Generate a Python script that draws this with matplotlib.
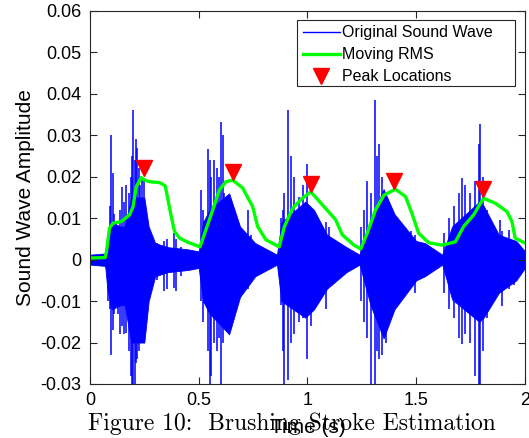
import numpy as np
import matplotlib
matplotlib.use('Agg')
import matplotlib.pyplot as plt
from matplotlib.patches import Rectangle

plt.rcParams['font.family'] = ['Liberation Sans', 'DejaVu Sans']

# dense part of the sound wave (envelope)
core_t = [0.00, 0.07, 0.08, 0.10, 0.14, 0.16, 0.19, 0.25, 0.27, 0.30, 0.36, 0.45, 0.50, 0.52, 0.55,
          0.64, 0.69, 0.76, 0.86, 0.88, 0.99, 1.03, 1.09, 1.18, 1.24, 1.29, 1.35, 1.40, 1.50, 1.54,
          1.62, 1.665, 1.79, 1.81, 1.88, 1.96, 2.00]
core_hi = [0.0012, 0.0015, 0.006, 0.009, 0.008, 0.008, 0.015, 0.015, 0.008, 0.004, 0.003, 0.0025, 0.002, 0.009, 0.012,
           0.016, 0.008, 0.004, 0.0012, 0.009, 0.014, 0.012, 0.006, 0.003, 0.0012, 0.0096, 0.017, 0.011, 0.0045, 0.004,
           0.0012, 0.008, 0.014, 0.013, 0.006, 0.0045, 0.002]
core_lo = [-0.0012, -0.0015, -0.007, -0.012, -0.011, -0.011, -0.020, -0.020, -0.010, -0.004, -0.003, -0.0025, -0.002, -0.010, -0.013,
           -0.018, -0.009, -0.004, -0.0012, -0.010, -0.014, -0.012, -0.007, -0.003, -0.0012, -0.011, -0.019, -0.012, -0.005, -0.004,
           -0.0012, -0.0096, -0.015, -0.014, -0.008, -0.005, -0.002]

# individual spikes of the sound wave
spike_t = [0.082, 0.092, 0.098, 0.104, 0.110, 0.118, 0.128, 0.138, 0.146, 0.155, 0.165, 0.178, 0.188, 0.195,
           0.200, 0.206, 0.212, 0.218, 0.225, 0.232, 0.240, 0.250, 0.262, 0.275, 0.290, 0.310, 0.340, 0.355,
           0.385, 0.395, 0.420,
           0.510, 0.520, 0.541, 0.550, 0.556, 0.572, 0.585, 0.595, 0.602, 0.610, 0.618, 0.633, 0.640, 0.660,
           0.686, 0.702, 0.725, 0.740,
           0.878, 0.886, 0.893, 0.909, 0.924, 0.940, 0.962, 0.980, 0.996, 1.014, 1.045, 1.053, 1.084, 1.100, 1.137,
           1.245, 1.260, 1.275, 1.290, 1.310, 1.321, 1.329, 1.344, 1.360, 1.383, 1.405, 1.443, 1.474, 1.496,
           1.626, 1.650, 1.672, 1.695, 1.710, 1.726, 1.749, 1.772, 1.787, 1.795, 1.806, 1.825, 1.856, 1.886,
           1.894, 1.925, 1.948]
spike_hi = [0.006, 0.013, 0.030, 0.021, 0.011, 0.009, 0.007, 0.012, 0.0176, 0.014, 0.018, 0.016, 0.020, 0.025,
            0.036, 0.024, 0.029, 0.027, 0.022, 0.018, 0.020, 0.019, 0.008, 0.006, 0.005, 0.004, 0.0045, 0.005,
            0.0064, 0.005, 0.003,
            0.0168, 0.012, 0.0268, 0.024, 0.020, 0.024, 0.022, 0.020, 0.0332, 0.030, 0.016, 0.014, 0.010, 0.009,
            0.008, 0.0064, 0.012, 0.006,
            0.010, 0.012, 0.016, 0.036, 0.025, 0.020, 0.015, 0.018, 0.023, 0.012, 0.006, 0.0084, 0.0092, 0.008, 0.004,
            0.008, 0.012, 0.019, 0.016, 0.0385, 0.025, 0.028, 0.020, 0.016, 0.012, 0.008, 0.005, 0.007, 0.006,
            0.0064, 0.010, 0.013, 0.016, 0.0196, 0.018, 0.016, 0.019, 0.028, 0.0328, 0.020, 0.012, 0.008, 0.0096,
            0.007, 0.0072, 0.004]
spike_lo = [-0.010, -0.012, -0.023, -0.017, -0.013, -0.008, -0.013, -0.018, -0.016, -0.018, -0.0176, -0.022, -0.028, -0.032,
            -0.032, -0.032, -0.025, -0.024, -0.022, -0.018, -0.014, -0.012, -0.013, -0.008, -0.006, -0.005, -0.0076, -0.007,
            -0.0068, -0.0076, -0.004,
            -0.010, -0.015, -0.022, -0.032, -0.028, -0.020, -0.022, -0.019, -0.032, -0.020, -0.015, -0.0144, -0.015, -0.010,
            -0.009, -0.006, -0.007, -0.005,
            -0.011, -0.022, -0.031, -0.029, -0.020, -0.018, -0.015, -0.014, -0.024, -0.016, -0.008, -0.007, -0.012, -0.006, -0.004,
            -0.010, -0.015, -0.019, -0.031, -0.031, -0.022, -0.024, -0.023, -0.020, -0.012, -0.008, -0.007, -0.005, -0.008,
            -0.008, -0.012, -0.014, -0.019, -0.0204, -0.018, -0.020, -0.028, -0.031, -0.032, -0.022, -0.014, -0.010, -0.008,
            -0.0112, -0.007, -0.006]

# moving RMS
rms_t = [0.0, 0.07, 0.075, 0.09, 0.106, 0.144, 0.182, 0.198, 0.213, 0.236, 0.251, 0.274, 0.32, 0.346, 0.359,
         0.374, 0.389, 0.412, 0.45, 0.506, 0.549, 0.595, 0.625, 0.656, 0.702, 0.748, 0.771, 0.809, 0.870,
         0.894, 0.932, 0.97, 1.015, 1.076, 1.13, 1.16, 1.214, 1.245, 1.275, 1.313, 1.352, 1.405, 1.451,
         1.48, 1.511, 1.557, 1.618, 1.68, 1.718, 1.764, 1.795, 1.81, 1.864, 1.917, 1.94, 1.955, 2.0]
rms_v = [0.0004, 0.0005, 0.0016, 0.0076, 0.0088, 0.0092, 0.0108, 0.0128, 0.0176, 0.0198, 0.0192, 0.0188, 0.0186, 0.0178, 0.0144,
         0.0104, 0.0068, 0.0052, 0.0042, 0.0031, 0.0096, 0.0168, 0.0188, 0.0192, 0.0173, 0.0128, 0.008, 0.0048, 0.0031,
         0.008, 0.0124, 0.0145, 0.0164, 0.0128, 0.0096, 0.006, 0.0035, 0.0026, 0.0064, 0.012, 0.0156, 0.017, 0.0152,
         0.0112, 0.0064, 0.0041, 0.0035, 0.0043, 0.008, 0.0108, 0.0136, 0.0148, 0.0136, 0.0116, 0.0092, 0.0052, 0.004]

# peak markers
peak_t = [0.247, 0.656, 1.018, 1.397, 1.807]
peak_v = [0.0221, 0.0212, 0.0183, 0.0190, 0.0171]

xticks = [0, 0.5, 1, 1.5, 2]
xticklabels = ['0', '0.5', '1', '1.5', '2']
yticks = [-0.03, -0.02, -0.01, 0, 0.01, 0.02, 0.03, 0.04, 0.05, 0.06]
yticklabels = ['-0.03', '-0.02', '-0.01', '0', '0.01', '0.02', '0.03', '0.04', '0.05', '0.06']

fig = plt.figure(figsize=(5.29, 4.38), dpi=100)
ax = fig.add_axes([0.170, 0.1233, 0.8224, 0.8516])

ax.fill_between(core_t, core_lo, core_hi, color='#0000ff', linewidth=0.6)
ax.vlines(spike_t, spike_lo, spike_hi, color='#0000ff', linewidth=1.1)
ax.plot([], [], color='#0000ff', linewidth=1.0, label='Original Sound Wave')
ax.plot(rms_t, rms_v, color='#00ff00', linewidth=2.4, label='Moving RMS')
ax.plot(peak_t, peak_v, 'v', color='#ff0000', markersize=11, linestyle='none', label='Peak Locations')

ax.set_xlim(0, 2)
ax.set_ylim(-0.03, 0.06)
ax.set_xticks(xticks)
ax.set_xticklabels(xticklabels)
ax.set_yticks(yticks)
ax.set_yticklabels(yticklabels)
ax.tick_params(direction='in', top=True, right=True, length=5, width=0.8, color='#262626',
               labelsize=13, pad=6)
for s in ax.spines.values():
    s.set_color('#262626')
    s.set_linewidth(0.8)

ax.set_ylabel('Sound Wave Amplitude', fontsize=15, labelpad=4)
ax.set_xlabel('Time (s)', fontsize=15, labelpad=6)

# MATLAB style legend box, wider than its contents
ax.add_patch(Rectangle((0.4759, 0.7989), 0.5011, 0.1769, transform=ax.transAxes,
                       facecolor='white', edgecolor='#262626', linewidth=0.8, zorder=4))
leg = ax.legend(loc='upper left', bbox_to_anchor=(0.4897, 0.962), fontsize=11.5, frameon=False,
                handlelength=2.3, handletextpad=0.15, labelspacing=0.44, borderpad=0,
                borderaxespad=0)
leg.set_zorder(5)

fig.text(0.552, 0.018, 'Figure 10:  Brushing Stroke Estimation', family='cmr10',
         ha='center', va='baseline', fontsize=17)

plt.savefig('out.png', dpi=100)
